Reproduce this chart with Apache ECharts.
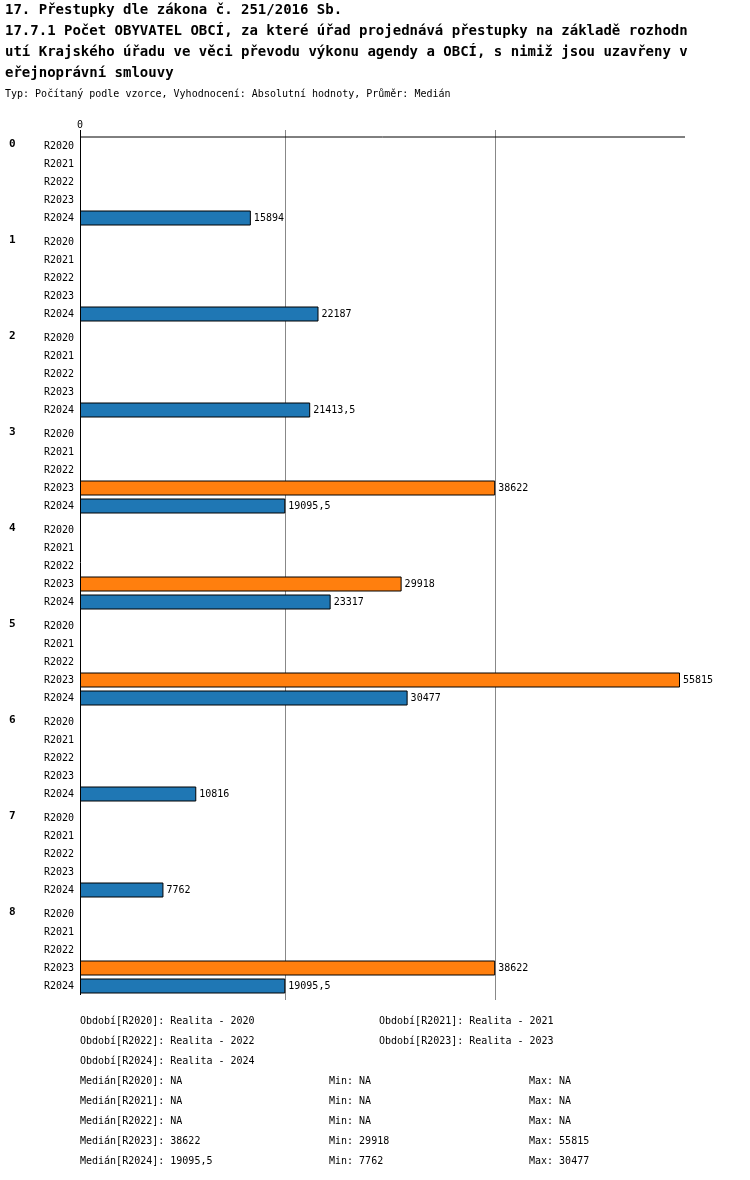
<!DOCTYPE html><html><head><meta charset="utf-8"><script src="https://cdn.jsdelivr.net/npm/echarts@6/dist/echarts.min.js"></script>
<style>body{margin:0;background:#fff}#c{width:750px;height:1180px}</style></head><body><div id="c"></div><script>
const groups=['0','1','2','3','4','5','6','7','8'];
const periods=['R2020','R2021','R2022','R2023','R2024'];
const r2020=[null,null,null,null,null,null,null,null,null];
const r2021=[null,null,null,null,null,null,null,null,null];
const r2022=[null,null,null,null,null,null,null,null,null];
const r2023=[null,null,null,38622,29918,55815,null,null,38622];
const r2024=[15894,22187,21413.5,19095.5,23317,30477,10816,7762,19095.5];
const gridVals=[19095.5,38622];
const XMAX=56280;
const legendTexts=['Období[R2020]: Realita - 2020','Období[R2021]: Realita - 2021','Období[R2022]: Realita - 2022','Období[R2023]: Realita - 2023','Období[R2024]: Realita - 2024'];
const statRows=[['Medián[R2020]: NA','Min: NA','Max: NA'],['Medián[R2021]: NA','Min: NA','Max: NA'],['Medián[R2022]: NA','Min: NA','Max: NA'],['Medián[R2023]: 38622','Min: 29918','Max: 55815'],['Medián[R2024]: 19095,5','Min: 7762','Max: 30477']];
const F='DejaVu Sans Mono';
const fmt=v=>String(v).replace('.',',');
const ch=echarts.init(document.getElementById('c'));
const grids=[],xAxes=[],yAxes=[],series=[];
const all=[r2020,r2021,r2022,r2023,r2024];
groups.forEach((g,i)=>{
  grids.push({left:80,width:605,top:137+i*96,height:90});
  xAxes.push({type:'value',gridIndex:i,min:0,max:XMAX,show:false});
  yAxes.push({type:'category',gridIndex:i,inverse:true,data:periods,axisLine:{show:false},axisTick:{show:false},
    axisLabel:{fontFamily:F,fontSize:10,color:'#000',margin:6}});
  series.push({type:'bar',xAxisIndex:i,yAxisIndex:i,barWidth:15,
    data:all.map((arr,k)=>{const v=arr[i];return v==null?{value:0,na:true,itemStyle:{borderWidth:0,opacity:0}}:{value:v,itemStyle:{color:k==3?'#ff7f0e':'#1f77b4',borderColor:'#000',borderWidth:1}};}),
    label:{show:true,position:'right',distance:3,fontFamily:F,fontSize:10,color:'#000',formatter:p=>p.data.na?'NA':fmt(p.value)},
    silent:true,animation:false});
});
const graphic=[
 {type:'text',left:5,top:3,style:{text:'17. Přestupky dle zákona č. 251/2016 Sb.',font:'bold 14px '+F,fill:'#000'}},
 {type:'text',left:5,top:24,style:{text:'17.7.1 Počet OBYVATEL OBCÍ, za které úřad projednává přestupky na základě rozhodn',font:'bold 14px '+F,fill:'#000'}},
 {type:'text',left:5,top:45,style:{text:'utí Krajského úřadu ve věci převodu výkonu agendy a OBCÍ, s nimiž jsou uzavřeny v',font:'bold 14px '+F,fill:'#000'}},
 {type:'text',left:5,top:66,style:{text:'eřejnoprávní smlouvy',font:'bold 14px '+F,fill:'#000'}},
 {type:'text',left:5,top:89,style:{text:'Typ: Počítaný podle vzorce, Vyhodnocení: Absolutní hodnoty, Průměr: Medián',font:'10px '+F,fill:'#000'}},
 {type:'text',left:77,top:120,style:{text:'0',font:'10px '+F,fill:'#000'}},
 {type:'line',shape:{x1:80,y1:137,x2:685,y2:137},style:{stroke:'#000',lineWidth:1}},
 {type:'line',shape:{x1:80.5,y1:130,x2:80.5,y2:995},style:{stroke:'#000',lineWidth:1}}
];
gridVals.forEach(v=>{const x=Math.round(80+605*v/XMAX)+0.5;graphic.push({type:'line',z:-1,shape:{x1:x,y1:130,x2:x,y2:1000},style:{stroke:'#888',lineWidth:1}});});
groups.forEach((g,i)=>graphic.push({type:'text',left:9,top:139+i*96,style:{text:g,font:'bold 11px '+F,fill:'#000'}}));
legendTexts.forEach((t,k)=>graphic.push({type:'text',left:k%2?379:80,top:1016+Math.floor(k/2)*20,style:{text:t,font:'10px '+F,fill:'#000'}}));
statRows.forEach((r,k)=>r.forEach((t,j)=>graphic.push({type:'text',left:[80,329,529][j],top:1076+k*20,style:{text:t,font:'10px '+F,fill:'#000'}})));
ch.setOption({animation:false,grid:grids,xAxis:xAxes,yAxis:yAxes,series,graphic});
</script></body></html>
